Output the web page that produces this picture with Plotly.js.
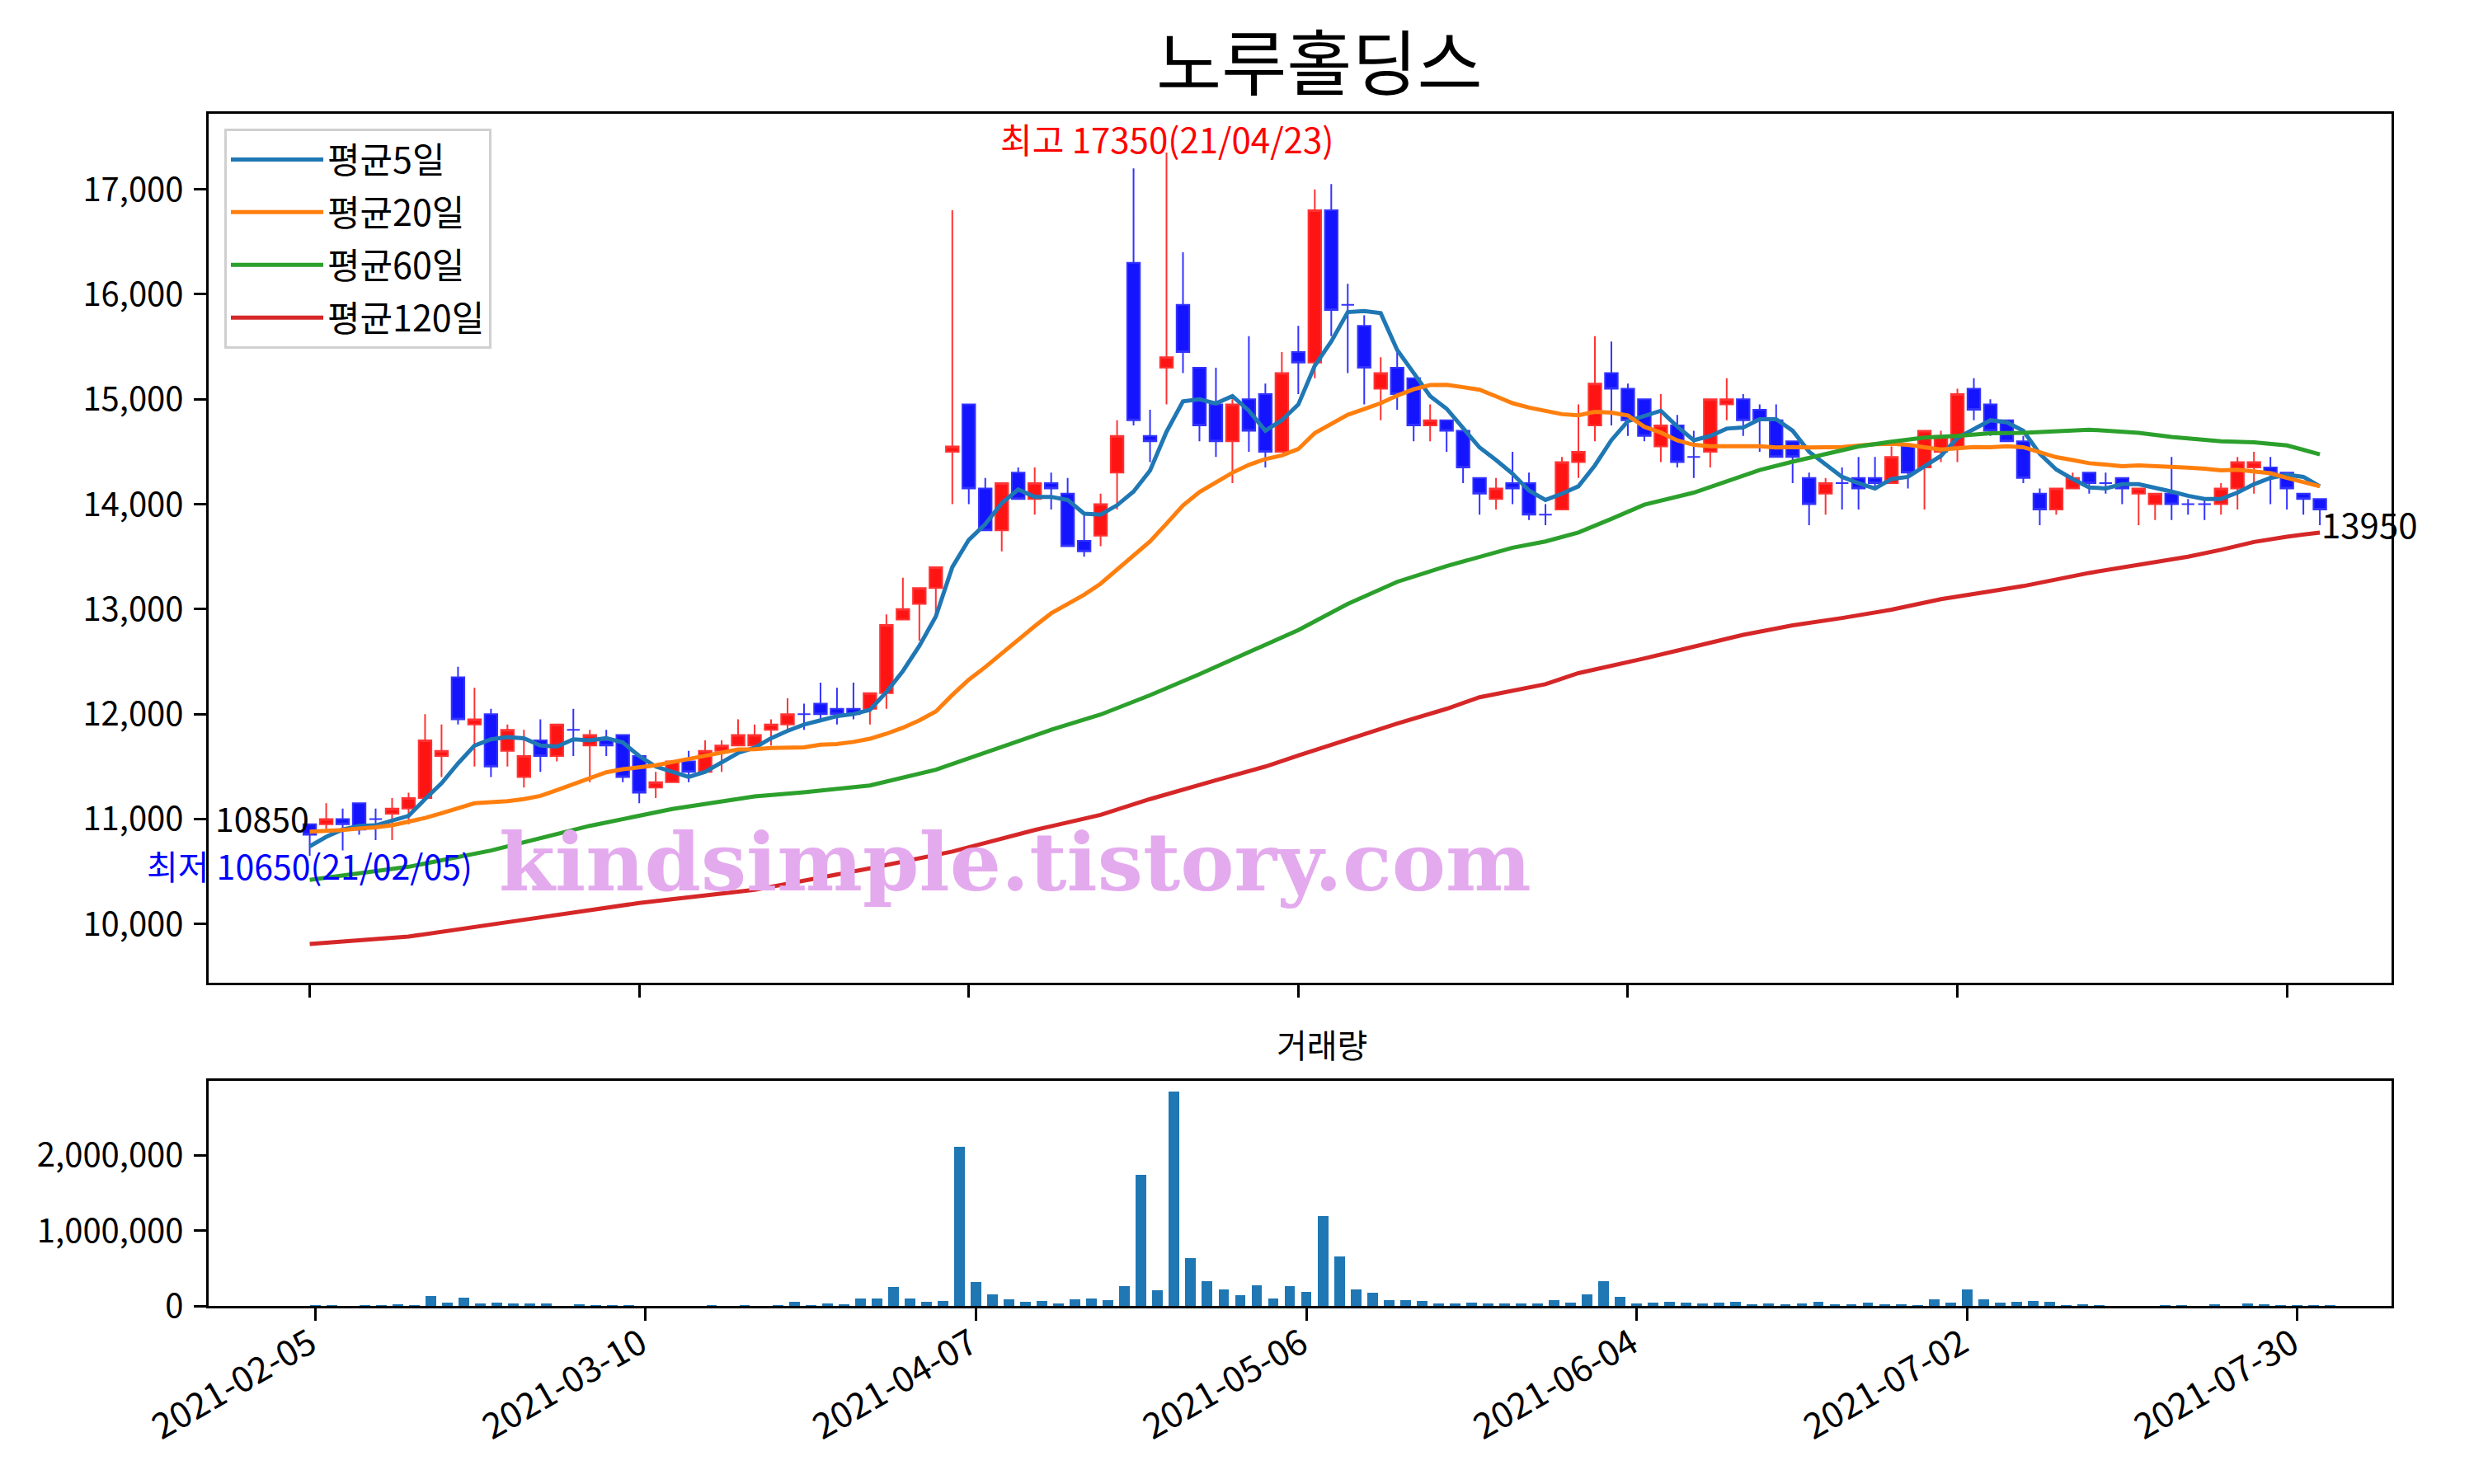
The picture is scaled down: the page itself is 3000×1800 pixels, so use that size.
<!DOCTYPE html>
<html><head><meta charset="utf-8">
<script src="https://cdn.plot.ly/plotly-3.0.1.min.js"></script>
<style>html,body{margin:0;padding:0;background:#fff}</style>
</head><body>
<div id="chart" style="width:3000px;height:1800px"></div>
<script>
const titleText = '노루홀딩스';
const volumeTitle = '거래량';
const watermark = 'kindsimple.tistory.com';
const tickIdx = [0, 20, 40, 60, 80, 100, 120];
const tickLabels = ['2021-02-05','2021-03-10','2021-04-07','2021-05-06','2021-06-04','2021-07-02','2021-07-30'];
const highDate = '21/04/23';
const lowDate = '21/02/05';

const opens = [10950,10950,11000,11150,11000,11050,11100,11200,11600,12350,11900,12000,11650,11400,11750,11600,11850,11700,11750,11800,
11600,11300,11350,11550,11450,11650,11700,11700,11850,11900,12000,12100,12050,12050,12050,12200,12900,13050,13200,14500,
14950,14150,13750,14300,14050,14200,14100,13650,13700,14300,16300,14650,15300,15900,15300,14950,14600,15000,15050,14500,
15450,15350,16800,15900,15700,15100,15300,15200,14750,14800,14700,14250,14050,14200,14200,13900,13950,14400,14750,15250,
15100,15000,14550,14750,14450,14500,14950,15000,14900,14800,14600,14250,14100,14200,14250,14250,14200,14550,14350,14500,
14550,15100,14950,14800,14600,14100,13950,14150,14300,14200,14250,14100,14000,14100,14000,14000,14000,14150,14350,14350,
14300,14100,14050];
const highs = [10950,11150,11100,11150,11100,11200,11250,12000,11900,12450,12250,12050,11900,11850,11950,11900,12050,11850,11850,11800,
11600,11450,11550,11650,11750,11750,11950,11900,11950,12150,12100,12300,12250,12300,12200,12950,13300,13200,13400,16800,
14950,14250,14200,14350,14350,14300,14250,13900,14100,14800,17200,14900,17350,16400,15300,15300,15000,15600,15150,15450,
15700,17000,17050,16100,15800,15400,15450,15200,14950,14800,14700,14250,14250,14500,14300,14000,14450,14950,15600,15550,
15150,15000,15050,14850,14700,15000,15200,15050,14950,14950,14600,14300,14250,14350,14450,14450,14550,14550,14700,14700,
15100,15200,15000,14800,14650,14150,14150,14300,14300,14300,14250,14150,14100,14450,14050,14050,14200,14450,14500,14450,
14300,14100,14050];
const lows = [10650,10900,10700,10850,10800,10800,10950,11200,11400,11900,11500,11400,11500,11300,11450,11550,11600,11350,11600,11350,
11150,11200,11350,11350,11450,11450,11700,11700,11700,11850,11850,11950,11900,11950,11900,12050,12900,12700,12950,14000,
14000,13750,13550,14050,13900,13950,13600,13500,13600,13950,14750,14400,14950,15250,14600,14450,14200,14500,14350,14500,
15050,15200,15600,15250,14950,14800,14900,14600,14600,14500,14200,13900,13950,14000,13850,13800,13950,14250,14600,14750,
14650,14600,14400,14350,14250,14350,14800,14650,14500,14450,14200,13800,13900,13950,13950,14150,14200,14150,13950,14400,
14400,14800,14650,14600,14200,13800,13900,14150,14100,14100,14000,13800,13850,13850,13900,13850,13900,13950,14100,14000,
13950,13900,13800];
const closes = [10850,11000,10950,10900,11000,11100,11200,11750,11650,11950,11950,11500,11850,11600,11600,11900,11850,11800,11700,11400,
11250,11350,11550,11450,11650,11700,11800,11800,11900,12000,12000,12000,12000,12000,12200,12850,13000,13200,13400,14550,
14150,13750,14200,14050,14200,14150,13600,13550,14000,14650,14800,14600,15400,15450,14750,14600,14950,14700,14500,15250,
15350,16800,15850,15900,15300,15250,15050,14750,14800,14700,14350,14100,14150,14150,13900,13900,14400,14500,15150,15100,
14800,14650,14750,14400,14450,15000,15000,14800,14800,14450,14450,14000,14200,14200,14150,14200,14450,14300,14700,14650,
15050,14900,14700,14600,14250,13950,14150,14250,14200,14200,14150,14150,14100,14000,14000,14000,14150,14400,14400,14300,
14150,14050,13950];
const volumes = [15000,15000,3000,15000,15000,25000,12000,130000,47000,110000,33000,47000,33000,33000,33000,3000,22000,12000,12000,12000,
3000,3000,3000,3000,12000,3000,12000,3000,12000,55000,12000,33000,22000,98000,98000,251000,98000,55000,65000,2116000,
316000,153000,87000,55000,65000,33000,87000,98000,76000,262000,1745000,207000,2847000,633000,327000,218000,142000,273000,98000,262000,
185000,1189000,658000,218000,175000,76000,76000,65000,33000,33000,44000,33000,33000,33000,33000,76000,44000,153000,327000,120000,
33000,44000,55000,44000,33000,44000,55000,22000,33000,22000,33000,55000,22000,22000,44000,22000,22000,12000,87000,44000,
218000,87000,44000,55000,65000,55000,12000,22000,12000,3000,3000,3000,12000,12000,3000,22000,3000,33000,22000,12000,
12000,12000,12000];

// moving-average values read from the picture where the window is not yet full
const ma5Early = [10740,10830,10900,10935];
const ma20Early = [10880,10885,10895,10910,10920,10940,10970,11010,11055,11105,11150,11160,11170,11190,11220,11275,11335,11395,11445];
// 60- and 120-day averages
const ma60Idx = [0,6,11,17,22,27,30,34,38,41,45,48,51,54,58,60,63,66,69,71,73,75,77,79,81,84,86,88,90,92,94,96,98,100,102,104,108,111,113,116,118,120,122];
const ma60Val = [10420,10545,10700,10935,11095,11215,11255,11320,11470,11635,11850,11995,12180,12380,12660,12800,13050,13260,13410,13495,13585,13645,13730,13860,13995,14110,14220,14325,14405,14480,14550,14595,14635,14650,14675,14680,14710,14680,14640,14600,14590,14560,14475];
const ma120Idx = [0,6,13,20,27,34,39,44,48,51,55,58,60,63,66,69,71,75,77,81,84,87,90,93,96,99,102,104,108,112,114,116,118,120,122];
const ma120Val = [9810,9880,10040,10200,10325,10530,10690,10895,11040,11190,11370,11500,11605,11760,11910,12050,12160,12285,12390,12530,12640,12755,12845,12915,12995,13095,13170,13220,13345,13450,13500,13565,13640,13690,13730];

const idx = closes.map((_, i) => i);
function rollingMean(n, early) {
  return closes.map((c, i) => {
    if (i < n - 1) return early[i];
    let s = 0;
    for (let k = i - n + 1; k <= i; k++) s += closes[k];
    return s / n;
  });
}
const ma5 = rollingMean(5, ma5Early);
const ma20 = rollingMean(20, ma20Early);

function pick(cond) {
  const o = {x: [], open: [], high: [], low: [], close: []};
  idx.forEach(i => {
    if (cond(i)) {
      o.x.push(i); o.open.push(opens[i]); o.high.push(highs[i]); o.low.push(lows[i]); o.close.push(closes[i]);
    }
  });
  return o;
}
const up = pick(i => closes[i] > opens[i]);
const down = pick(i => !(closes[i] > opens[i]));

const RED_LINE = '#ff3333', RED_FILL = '#ff1414';
const BLUE_LINE = '#3333ff', BLUE_FILL = '#1414ff';

function candleTrace(d, lineC, fillC) {
  return Object.assign({
    type: 'candlestick', xaxis: 'x', yaxis: 'y', showlegend: false, hoverinfo: 'skip',
    increasing: {line: {color: lineC, width: 2}, fillcolor: fillC},
    decreasing: {line: {color: lineC, width: 2}, fillcolor: fillC},
    whiskerwidth: 0
  }, d);
}
function maTrace(xs, ys, name, color, grp) {
  return {type: 'scatter', mode: 'lines', x: xs, y: ys, name: name, legendgroup: grp,
    line: {color: color, width: 5}, xaxis: 'x', yaxis: 'y', hoverinfo: 'skip'};
}

const traces = [
  candleTrace(up, RED_LINE, RED_FILL),
  candleTrace(down, BLUE_LINE, BLUE_FILL),
  maTrace(idx, ma5, '평균5일', '#1f77b4', 'g1'),
  maTrace(idx, ma20, '평균20일', '#ff7f0e', 'g2'),
  maTrace(ma60Idx, ma60Val, '평균60일', '#2ca02c', 'g3'),
  maTrace(ma120Idx, ma120Val, '평균120일', '#d62728', 'g4'),
  {type: 'bar', x: idx, y: volumes, xaxis: 'x2', yaxis: 'y2', width: 0.64,
   marker: {color: '#1f77b4', line: {width: 0}}, showlegend: false, hoverinfo: 'skip'}
];

const maxHigh = Math.max(...highs);
const maxIdx = highs.indexOf(maxHigh);
const minLow = Math.min(...lows);
const minIdx = lows.indexOf(minLow);
const firstClose = closes[0];
const lastIdx = closes.length - 1;
const lastClose = closes[lastIdx];

const FONT = 'Noto Sans CJK KR, Noto Sans, sans-serif';
const axisCommon = {
  showline: true, linewidth: 3, linecolor: '#000', mirror: true,
  ticks: 'outside', ticklen: 15, tickwidth: 3, tickcolor: '#000',
  showgrid: false, zeroline: false, tickfont: {size: 40, color: '#000', family: FONT}
};
const xDomain = [252.5 / 3000, 2900 / 3000];

const layout = {
  width: 3000, height: 1800, autosize: false,
  margin: {l: 0, r: 0, t: 0, b: 0},
  paper_bgcolor: '#ffffff', plot_bgcolor: '#ffffff',
  font: {family: FONT, size: 40, color: '#000'},
  title: {text: titleText, x: 0.5333, y: 0.956, xanchor: 'center', yanchor: 'middle',
          font: {size: 86, color: '#000', family: FONT}},
  boxgap: 0.23, boxgroupgap: 0,
  bargap: 0,
  showlegend: true,
  legend: {x: 272 / 3000, y: 1 - 156 / 1800, xanchor: 'left', yanchor: 'top',
           bgcolor: '#ffffff', bordercolor: '#d0d0d0', borderwidth: 3,
           font: {size: 43, color: '#000', family: FONT}, itemwidth: 112,
           traceorder: 'grouped', tracegroupgap: 5},
  xaxis: Object.assign({}, axisCommon, {
    domain: xDomain, anchor: 'y', range: [-6.16, 126.35],
    tickmode: 'array', tickvals: tickIdx, ticktext: tickLabels, showticklabels: false,
    rangeslider: {visible: false}
  }),
  yaxis: Object.assign({}, axisCommon, {
    domain: [1 - 1192 / 1800, 1 - 138 / 1800], anchor: 'x', range: [9440, 17720],
    tick0: 10000, dtick: 1000, tickformat: ',d', ticklabelstandoff: 4
  }),
  xaxis2: Object.assign({}, axisCommon, {
    domain: xDomain, anchor: 'y2', range: [-6.48, 125.7],
    tickmode: 'array', tickvals: tickIdx, ticktext: tickLabels, tickangle: -30,
    tickfont: {size: 43, color: '#000', family: FONT},
    ticklabelstandoff: -14, ticklabelshift: -6
  }),
  yaxis2: Object.assign({}, axisCommon, {
    domain: [1 - 1584 / 1800, 1 - 1311 / 1800], anchor: 'x2', range: [0, 2990000],
    tickmode: 'array', tickvals: [0, 1000000, 2000000], tickformat: ',d', ticklabelstandoff: 4
  }),
  annotations: [
    {text: '최고 ' + maxHigh + '(' + highDate + ')', x: maxIdx, y: maxHigh, xref: 'x', yref: 'y',
     showarrow: false, xanchor: 'center', yanchor: 'middle', yshift: 18,
     font: {size: 42, color: '#ff0000', family: FONT}},
    {text: '최저 ' + minLow + '(' + lowDate + ')', x: minIdx, y: minLow, xref: 'x', yref: 'y',
     showarrow: false, xanchor: 'center', yanchor: 'middle', yshift: -11, borderpad: 0,
     font: {size: 41, color: '#0000ff', family: FONT}},
    {text: String(firstClose), x: 0, y: firstClose, xref: 'x', yref: 'y',
     showarrow: false, xanchor: 'right', yanchor: 'middle', yshift: 22, borderpad: 0,
     font: {size: 41, color: '#000', family: FONT}},
    {text: String(lastClose), x: lastIdx, y: lastClose, xref: 'x', yref: 'y',
     showarrow: false, xanchor: 'left', yanchor: 'middle', yshift: -17,
     font: {size: 42, color: '#000', family: FONT}},
    {text: '<b>' + watermark + '</b>', x: 1231 / 3000, y: 1 - 1045 / 1800, xref: 'paper', yref: 'paper',
     showarrow: false, xanchor: 'center', yanchor: 'middle',
     font: {size: 98, color: '#e4aaee', family: 'DejaVu Serif, serif'}},
    {text: volumeTitle, x: 1603 / 3000, y: 1 - 1266 / 1800, xref: 'paper', yref: 'paper',
     showarrow: false, xanchor: 'center', yanchor: 'middle',
     font: {size: 40, color: '#000', family: FONT}}
  ]
};

Plotly.newPlot('chart', traces, layout, {displayModeBar: false, staticPlot: true});
</script>
</body></html>
